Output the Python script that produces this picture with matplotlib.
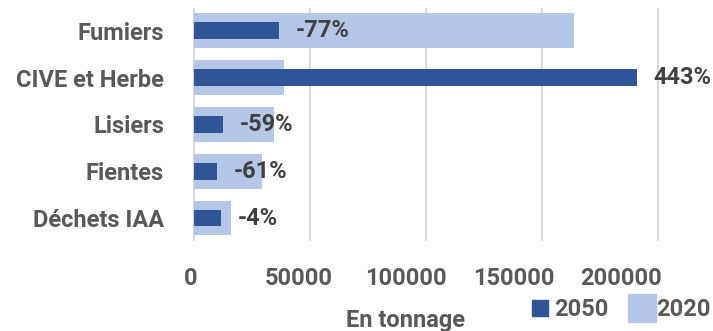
import matplotlib.pyplot as plt
import numpy as np
from matplotlib.lines import Line2D

# tonnages par gisement, lus du haut vers le bas
categories = ['Fumiers', 'CIVE et Herbe', 'Lisiers', 'Fientes', 'Déchets IAA']
t2020 = [164000, 38900, 34500, 29300, 15800]
t2050 = [36500, 190800, 12400, 9800, 11500]
evolution = ['-77%', '443%', '-59%', '-61%', '-4%']
xticks = [0, 50000, 100000, 150000, 200000]

DARK = '#2F5597'
LIGHT = '#B4C7E7'
TXT = '#595959'
plt.rcParams['font.family'] = ['Roboto', 'DejaVu Sans']
plt.rcParams['font.weight'] = 'bold'
FS = 17

fig = plt.figure(figsize=(7.13, 3.31), dpi=100)
ax = fig.add_axes([190.5 / 713, 90 / 331, 502.3 / 713, 233 / 331])

y = np.arange(len(categories))[::-1]
ax.barh(y, t2020, height=0.745, color=LIGHT, zorder=2, label='2020')
ax.barh(y, t2050, height=0.355, color=DARK, zorder=3, label='2050')

for yy, v, lab in zip(y, t2050, evolution):
    ax.annotate(lab, (v, yy), xytext=(12, 0), textcoords='offset points',
                ha='left', va='center', fontsize=FS, color='#404040',
                fontweight='bold')

ax.set_xlim(-1500, 215000)
ax.set_ylim(-0.49, 4.484)
ax.set_yticks(y)
ax.set_yticklabels(categories, fontsize=FS, color=TXT, fontweight='bold')
ax.tick_params(axis='y', length=0, pad=19)
ax.set_xticks(xticks)
ax.tick_params(axis='x', length=0, labelbottom=False)
ax.grid(axis='x', color='#D9D9D9', linewidth=1.5, zorder=0)
for s in ax.spines.values():
    s.set_visible(False)

# les libellés de l'axe sont un peu décalés par rapport à la grille
sec = ax.secondary_xaxis('bottom', functions=(lambda x: (x + 1422) / 0.9284,
                                               lambda v: v * 0.9284 - 1422))
sec.set_xticks(xticks)
sec.set_xticklabels([str(t) for t in xticks], fontsize=FS, color=TXT,
                    fontweight='bold')
sec.tick_params(length=0, pad=18.5)
sec.spines['bottom'].set_visible(False)

fig.text(406 / 713, 11 / 331, 'En tonnage', ha='center',
         va='center', fontsize=FS, color=TXT, fontweight='bold')

handles = [Line2D([], [], marker='s', linestyle='none', markersize=12,
                  color=DARK),
           Line2D([], [], marker='s', linestyle='none', markersize=20,
                  color=LIGHT)]
fig.legend(handles, ['2050', '2020'], loc='center right',
           bbox_to_anchor=(1.0, 21 / 331), ncol=2, frameon=False,
           fontsize=FS, handletextpad=0.1, columnspacing=0.9,
           handlelength=1.0, labelcolor=TXT, borderaxespad=0,
           borderpad=0.1)

fig.savefig('out.png', dpi=100)
